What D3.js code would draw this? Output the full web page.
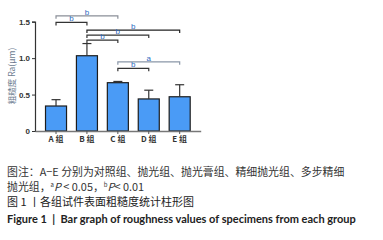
<!DOCTYPE html>
<html lang="zh">
<head>
  <meta charset="UTF-8">
  <title>粗糙度</title>
  <style>
    body { margin: 0; background: #fff; }
    svg { display: block; }
  </style>
</head>
<body>
  <script src="https://d3js.org/d3.v7.min.js"></script>
  <script>
    const groups = ['A 组', 'B 组', 'C 组', 'D 组', 'E 组'];
    const means = [0.343, 1.033, 0.663, 0.44, 0.47];
    const errors = [0.087, 0.167, 0.017, 0.12, 0.165];
    const yTicks = [0, 0.5, 1.0, 1.5];
    const yTickLabels = ['0', '0.5', '1.0', '1.5'];
    // significance brackets: from group, to group, label, height (Ra value), colour
    const pairFrom = [0, 0, 1, 1, 1, 2, 2];
    const pairTo = [2, 1, 4, 3, 2, 4, 3];
    const pairLabel = ['b', 'b', 'b', 'b', 'b', 'a', 'b'];
    const pairLevel = [1.58, 1.49, 1.385, 1.317, 1.248, 0.95, 0.86];
    const pairColor = ['#8a8f98', '#333', '#222', '#333', '#333', '#8a97a8', '#333'];

    const width = 383, height = 240;
    const plot = { left: 35, right: 200.7, top: 21.7, bottom: 131 };

    const svg = d3.select('body').append('svg')
      .attr('width', width)
      .attr('height', height);

    const x = d3.scaleBand()
      .domain(groups)
      .range([plot.left, plot.right])
      .paddingInner(0.32)
      .paddingOuter(0.34);

    const y = d3.scaleLinear()
      .domain([0, 1.5])
      .range([plot.bottom, plot.top]);

    const cx = i => x(groups[i]) + x.bandwidth() / 2;

    // bars
    svg.append('g')
      .selectAll('rect')
      .data(means)
      .join('rect')
      .attr('x', (d, i) => x(groups[i]))
      .attr('y', d => y(d))
      .attr('width', x.bandwidth())
      .attr('height', d => y(0) - y(d))
      .attr('fill', '#4a9bf6')
      .attr('stroke', '#1d1d1d')
      .attr('stroke-width', 1.2);

    // error bars (upper only)
    const eb = svg.append('g').attr('stroke', '#333').attr('stroke-width', 1.2);
    means.forEach((m, i) => {
      eb.append('line')
        .attr('x1', cx(i)).attr('x2', cx(i))
        .attr('y1', y(m)).attr('y2', y(m + errors[i]));
      eb.append('line')
        .attr('x1', cx(i) - 4.5).attr('x2', cx(i) + 4.5)
        .attr('y1', y(m + errors[i])).attr('y2', y(m + errors[i]));
    });

    // y axis
    const yAxis = d3.axisLeft(y)
      .tickValues(yTicks)
      .tickFormat((d, i) => yTickLabels[i])
      .tickSize(3)
      .tickPadding(2);
    const yg = svg.append('g')
      .attr('transform', `translate(${plot.left},0)`)
      .call(yAxis);
    yg.select('.domain').attr('stroke', '#333').attr('stroke-width', 1.2);
    yg.selectAll('.tick line').attr('stroke', '#333');
    yg.selectAll('.tick text')
      .attr('font-family', 'Liberation Sans, Arial, sans-serif')
      .attr('font-size', 8)
      .attr('font-weight', 'bold')
      .attr('fill', '#333');

    // x axis
    const xAxis = d3.axisBottom(x).tickSize(3).tickSizeOuter(0).tickPadding(2);
    const xg = svg.append('g')
      .attr('transform', `translate(0,${plot.bottom})`)
      .call(xAxis);
    xg.select('.domain').attr('stroke', '#777').attr('stroke-width', 1.5);
    xg.selectAll('.tick line').attr('stroke', '#555');
    xg.selectAll('.tick text')
      .attr('font-family', 'Noto Sans CJK SC, sans-serif')
      .attr('font-size', 8)
      .attr('font-weight', 'bold')
      .attr('fill', '#333');

    // y axis title
    svg.append('text')
      .attr('transform', 'translate(15,76) rotate(-90)')
      .attr('text-anchor', 'middle')
      .attr('font-family', 'Noto Sans CJK SC, sans-serif')
      .attr('font-size', 8.5)
      .attr('fill', '#6d7c90')
      .text('粗糙度 Ra(μm)');

    // significance brackets
    const br = svg.append('g');
    pairLevel.forEach((lv, k) => {
      const x1 = cx(pairFrom[k]), x2 = cx(pairTo[k]), yy = y(lv);
      br.append('path')
        .attr('d', `M${x1},${yy + 3}V${yy}H${x2}V${yy + 3}`)
        .attr('fill', 'none')
        .attr('stroke', pairColor[k])
        .attr('stroke-width', 1.2);
      br.append('text')
        .attr('x', (x1 + x2) / 2)
        .attr('y', yy - 1)
        .attr('text-anchor', 'middle')
        .attr('font-family', 'Liberation Sans, Arial, sans-serif')
        .attr('font-size', 8)
        .attr('fill', '#2f6bbf')
        .text(pairLabel[k]);
    });

    // caption
    const cap = svg.append('g')
      .attr('font-family', 'Noto Sans CJK SC, sans-serif')
      .attr('fill', '#333');
    cap.append('text')
      .attr('x', 7).attr('y', 175.5)
      .attr('font-size', 10.9)
      .text('图注：A−E 分别为对照组、抛光组、抛光膏组、精细抛光组、多步精细');
    const l2 = cap.append('text')
      .attr('x', 7).attr('y', 190.5)
      .attr('font-size', 10.9);
    l2.append('tspan').text('抛光组，');
    l2.append('tspan').attr('font-size', 6).attr('dy', -4).text('a');
    l2.append('tspan').attr('dy', 4).attr('font-style', 'italic').text('P');
    l2.append('tspan').text(' < 0.05，');
    l2.append('tspan').attr('font-size', 6).attr('dy', -4).text('b');
    l2.append('tspan').attr('dy', 4).attr('font-style', 'italic').text('P');
    l2.append('tspan').text('< 0.01');
    cap.append('text')
      .attr('x', 7).attr('y', 206)
      .attr('font-size', 11)
      .attr('fill', '#222')
      .text('图 1 丨各组试件表面粗糙度统计柱形图');
    cap.append('text')
      .attr('x', 7).attr('y', 223)
      .attr('font-family', 'Lato, sans-serif')
      .attr('font-weight', 'bold')
      .attr('font-size', 11)
      .attr('fill', '#222')
      .text('Figure 1\u00a0\u00a0|\u00a0\u00a0Bar graph of roughness values of specimens from each group');
  </script>
</body>
</html>
